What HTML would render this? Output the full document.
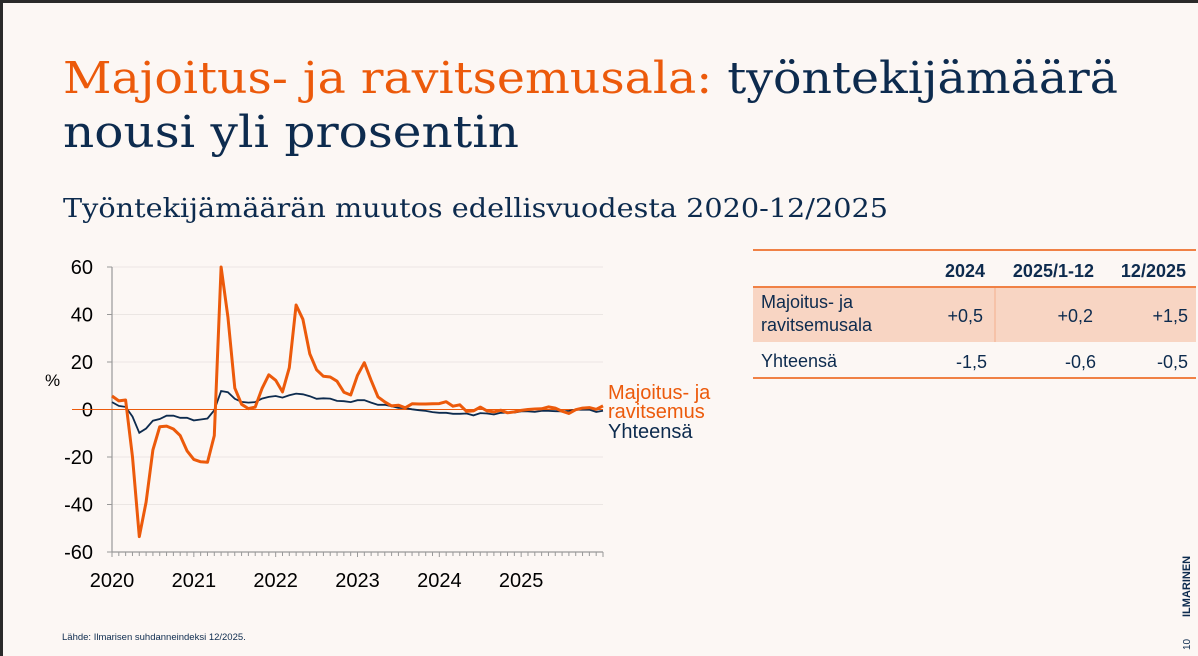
<!DOCTYPE html>
<html><head><meta charset="utf-8"><style>
html,body{margin:0;padding:0;background:#fcf7f4;}
svg{display:block;}
</style></head><body>
<svg id="s" width="1198" height="656" viewBox="0 0 1198 656" xmlns="http://www.w3.org/2000/svg">
<rect x="0" y="0" width="1198" height="656" fill="#fcf7f4"/>
<rect x="0" y="0" width="1198" height="3" fill="#2a2a2a"/>
<rect x="0" y="0" width="3" height="656" fill="#2a2a2a"/>
<text x="63" y="93" font-family="DejaVu Serif, serif" font-size="44" textLength="1055" lengthAdjust="spacingAndGlyphs"><tspan fill="#ec5a0b">Majoitus- ja ravitsemusala:</tspan><tspan fill="#0d2b4e"> työntekijämäärä</tspan></text>
<text x="63" y="147" font-family="DejaVu Serif, serif" font-size="44" fill="#0d2b4e" textLength="456" lengthAdjust="spacingAndGlyphs">nousi yli prosentin</text>
<text x="63" y="217" font-family="DejaVu Serif, serif" font-size="26" fill="#0d2b4e" textLength="825" lengthAdjust="spacingAndGlyphs">Työntekijämäärän muutos edellisvuodesta 2020-12/2025</text>
<g id="chart"></g>
<g font-family="Liberation Sans, sans-serif" font-size="18" fill="#0d2b4e">
<rect x="753" y="288" width="443" height="54" fill="#f8d5c3"/>
<line x1="995" y1="288" x2="995" y2="342" stroke="#f3b08c" stroke-width="1"/>
<line x1="753" y1="250" x2="1196" y2="250" stroke="#ec5a0b" stroke-width="1.5"/>
<line x1="753" y1="287" x2="1196" y2="287" stroke="#ec5a0b" stroke-width="1.5"/>
<line x1="753" y1="378" x2="1196" y2="378" stroke="#ec5a0b" stroke-width="1.5"/>
<g font-weight="bold" text-anchor="end">
<text x="985" y="277">2024</text><text x="1094" y="277">2025/1-12</text><text x="1186" y="277">12/2025</text></g>
<text x="761" y="308">Majoitus- ja</text>
<text x="761" y="331">ravitsemusala</text>
<g text-anchor="end"><text x="983" y="322">+0,5</text><text x="1093" y="322">+0,2</text><text x="1188" y="322">+1,5</text></g>
<text x="761" y="367">Yhteensä</text>
<g text-anchor="end"><text x="987" y="368">-1,5</text><text x="1096" y="368">-0,6</text><text x="1188" y="368">-0,5</text></g>
</g>
<text x="62" y="640" font-family="Liberation Sans, sans-serif" font-size="9.5" fill="#0d2b4e">Lähde: Ilmarisen suhdanneindeksi 12/2025.</text>
<text transform="translate(1190,617) rotate(-90)" font-family="Liberation Sans, sans-serif" font-size="11" font-weight="bold" fill="#0d2b4e">ILMARINEN</text>
<text transform="translate(1190,650) rotate(-90)" font-family="Liberation Sans, sans-serif" font-size="10" fill="#0d2b4e">10</text>
</svg>
<script>
const yearLabels=["2020","2021","2022","2023","2024","2025"];
const yTicks=[60,40,20,0,-20,-40,-60];
const majoitus=[5.7,3.6,4,-20,-53.5,-39,-17,-7.3,-7,-8.2,-11,-17.4,-21,-22,-22.2,-11,60,39,9,2.2,0.4,1,8.8,14.6,12.3,7.4,17.6,44,38,23.4,16.7,14,13.7,11.9,7.3,6.1,14.4,19.7,12.3,5.3,3.2,1.5,1.8,0.7,2.4,2.3,2.3,2.4,2.5,3.3,1.4,2,-0.8,-0.6,1,-0.6,-1,-0.3,-1.4,-1,-0.4,0,0.2,0.3,1.1,0.6,-0.7,-1.7,-0.1,0.6,0.8,0.1,1.5];
const yhteensa=[3.1,1.5,1.1,-3,-9.8,-8,-4.7,-4,-2.6,-2.6,-3.5,-3.5,-4.6,-4.2,-3.8,-0.3,7.8,7.3,4.5,3.2,2.9,3.1,4.6,5.3,5.7,5,6,6.7,6.4,5.6,4.5,4.7,4.6,3.6,3.5,3.1,3.9,3.9,2.9,2,2,1.4,0.7,0.6,0.1,-0.3,-0.6,-1.1,-1.4,-1.4,-1.8,-1.8,-1.7,-2.5,-1.5,-1.7,-2.1,-1.4,-1.3,-1.3,-0.8,-0.8,-1,-0.6,-0.6,-0.7,-0.8,-0.6,-0.1,-0.1,-0.1,-1,-0.5];
const NS='http://www.w3.org/2000/svg';
const g=document.getElementById('chart');
const X0=112,X1=603,Y60=267,Yn60=552;
const n=majoitus.length;
const xs=i=>X0+(X1-X0)*i/(n-1);
const ys=v=>Y60+(60-v)*(Yn60-Y60)/120;
function mk(t,a){const e=document.createElementNS(NS,t);for(const k in a)e.setAttribute(k,a[k]);g.appendChild(e);return e;}
yTicks.forEach(v=>{
  if(v!==0&&v!==-60){const l=mk('line',{x1:X0,x2:X1,y1:ys(v),y2:ys(v),stroke:'#ebe6e3','stroke-width':1});
  
  }
  const t=mk('text',{x:93,y:ys(v)+7,'text-anchor':'end','font-family':'Liberation Sans, sans-serif','font-size':20,fill:'#000'});
  t.textContent=v;
  
  
  mk('line',{x1:X0-5,x2:X0,y1:ys(v),y2:ys(v),stroke:'#999','stroke-width':1});
});
const ax=mk('line',{x1:X0,x2:X0,y1:Y60,y2:Yn60,stroke:'#999','stroke-width':1.2});


const xa=mk('line',{x1:X0,x2:X1,y1:Yn60,y2:Yn60,stroke:'#999','stroke-width':1.2});


for(let i=0;i<n;i++){mk('line',{x1:xs(i),x2:xs(i),y1:Yn60,y2:Yn60+(i%12===0?5:4),stroke:'#999','stroke-width':1});}
yearLabels.forEach((y,k)=>{const t=mk('text',{x:xs(k*12),y:Yn60+35,'text-anchor':'middle','font-family':'Liberation Sans, sans-serif','font-size':20,fill:'#000'});
  t.textContent=y;
  
  });
const z=mk('line',{x1:X0-40,x2:X1,y1:ys(0),y2:ys(0),stroke:'#ec5a0b','stroke-width':1});


const pts=a=>a.map((v,i)=>xs(i).toFixed(1)+','+ys(v).toFixed(1)).join(' ');
const l2=mk('polyline',{points:pts(yhteensa),fill:'none',stroke:'#0d2b4e','stroke-width':1.8});


const l1=mk('polyline',{points:pts(majoitus),fill:'none',stroke:'#ec5a0b','stroke-width':3,'stroke-linejoin':'round'});


const pct=mk('text',{x:45,y:386,'font-family':'Liberation Sans, sans-serif','font-size':17,fill:'#000'});
pct.textContent='%';


[['Majoitus- ja',399,'#ec5a0b'],['ravitsemus',418,'#ec5a0b'],['Yhteensä',438,'#0d2b4e']].forEach(([s,y,c])=>{
  const t=mk('text',{x:608,y:y,'font-family':'Liberation Sans, sans-serif','font-size':20,fill:c});
  t.textContent=s;
  
  });
</script>
</body></html>
